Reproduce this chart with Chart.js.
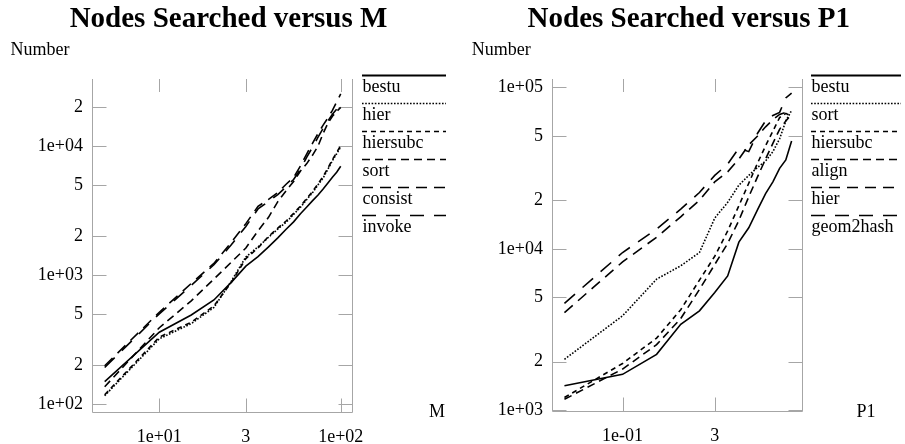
<!DOCTYPE html>
<html><head><meta charset="utf-8">
<script src="https://cdn.jsdelivr.net/npm/chart.js@4.4.1/dist/chart.umd.min.js"></script>
<style>
html,body{margin:0;padding:0;background:#fff;}
#wrap{position:relative;width:905px;height:444px;overflow:hidden;background:#fff;}
canvas{position:absolute;top:0;}
#c1{left:0;} #c2{left:452px;}
</style></head><body>
<div id="wrap"><canvas id="c1" width="452" height="444"></canvas><canvas id="c2" width="453" height="444"></canvas></div>
<script>
// ---------- Left panel: Nodes Searched versus M ----------
const mValues = [5,10,15,20,25,30,35,40,45,50,55,60,65,70,75,80,85,90,95,100];
const mBestu = [149,360,490,640,880,1170,1390,1650,1940,2260,2580,2980,3360,3770,4170,4640,5170,5720,6250,6960];
const mHier = [116,320,420,560,900,1380,1650,1960,2270,2560,2950,3350,3850,4350,5000,5650,6600,7700,8700,9800];
const mHiersubc = [118,330,430,575,880,1340,1620,1990,2310,2620,3000,3420,3920,4450,5100,5800,6750,7850,8900,10100];
const mSort = [136,390,630,930,1260,1620,2200,2800,3700,4500,5300,6400,7300,8500,10000,12500,15000,17000,18500,19900];
const mConsist = [198,514,860,1230,1800,2500,3400,3850,4350,5050,5700,7000,8700,10500,12500,14500,16500,18900,22000,25300];
const mInvoke = [192,500,830,1200,1720,2380,3250,3720,4200,4820,5500,6600,8200,9800,11700,13700,15600,17600,19300,21000];
const mSeriesNames = ['bestu','hier','hiersubc','sort','consist','invoke'];
const mXTicks = [10,30,100];
const mXTickLabels = ['1e+01','3','1e+02'];
const mYTicks = [100,200,500,1000,2000,5000,10000,20000];
const mYTickLabels = ['1e+02','2','5','1e+03','2','5','1e+04','2'];

// ---------- Right panel: Nodes Searched versus P1 ----------
const pValues = [0.05,0.10,0.15,0.20,0.25,0.30,0.35,0.40,0.45,0.50,0.55,0.60,0.65,0.70,0.75];
const pBestu = [1420,1670,2220,3410,4130,5360,6800,11000,13500,17500,22000,26000,31500,35500,46500];
const pSort = [2070,3850,6490,7850,9490,15500,19400,24800,28500,32000,35000,40000,48000,62000,72000];
const pHiersubc = [1200,1950,2800,4200,6400,9000,12900,18500,25500,34000,43500,53600,65000,69000,66000];
const pAlign = [1170,1800,2550,3700,5600,8000,10800,15000,21000,28000,36000,45000,55000,62000,68000];
const pHier = [4030,8300,11800,15800,20000,26000,30000,36000,44000,50000,57000,63000,68000,70000,70000];
const pGeom2hash = [4600,9490,13250,17620,22340,28500,33500,42000,40000,52000,62000,67000,70000,86000,92000];
const pSeriesNames = ['bestu','sort','hiersubc','align','hier','geom2hash'];
const pXTicks = [0.1,0.3];
const pXTickLabels = ['1e-01','3'];
const pYTicks = [1000,2000,5000,10000,20000,50000,100000];
const pYTickLabels = ['1e+03','2','5','1e+04','2','5','1e+05'];

const SERIF = "'Liberation Serif','Times New Roman',Times,serif";
const DASHES = [[], [1.6,1.6], [5,4], [8,5], [11,7], [14,10]];
const GREY = '#a6a6a6';

const framePlugin = {
  id: 'frame',
  beforeDatasetsDraw(chart) {
    const {ctx, chartArea: a, scales: {x, y}} = chart;
    ctx.save();
    ctx.strokeStyle = GREY; ctx.lineWidth = 1; ctx.setLineDash([]);
    const L = Math.round(a.left) + 0.5, R = Math.round(a.right) + 0.5, B = Math.round(a.bottom) + 0.5, T = a.top;
    ctx.beginPath();
    ctx.moveTo(L, T); ctx.lineTo(L, B); ctx.lineTo(R, B); ctx.lineTo(R, T);
    y.ticks.forEach(t => {
      const p = Math.round(y.getPixelForValue(t.value)) + 0.5;
      ctx.moveTo(L, p); ctx.lineTo(L + 14, p);
      ctx.moveTo(R, p); ctx.lineTo(R - 14, p);
    });
    x.ticks.forEach(t => {
      const p = Math.round(x.getPixelForValue(t.value)) + 0.5;
      ctx.moveTo(p, T); ctx.lineTo(p, T + 13);
      ctx.moveTo(p, B); ctx.lineTo(p, B - 14);
    });
    ctx.stroke();
    ctx.restore();
  },
  afterDraw(chart, args, o) {
    const ctx = chart.ctx;
    ctx.save();
    ctx.fillStyle = '#000';
    ctx.textBaseline = 'alphabetic';
    // title
    ctx.font = 'bold 29px ' + SERIF;
    ctx.textAlign = 'center';
    ctx.fillText(o.title, o.titleX, 27);
    // y axis name
    ctx.font = '18px ' + SERIF;
    ctx.textAlign = 'left';
    ctx.fillText('Number', o.numberX, 55);
    // x axis name
    ctx.textAlign = 'center';
    ctx.fillText(o.xName, o.xNameX, 417);
    // legend
    ctx.textAlign = 'left';
    chart.data.datasets.forEach((ds, i) => {
      const ly = 75 + 28 * i + 0.5;
      ctx.strokeStyle = '#000';
      ctx.lineWidth = i === 0 ? 2.2 : 1.6;
      ctx.setLineDash(ds.borderDash || []);
      ctx.beginPath();
      ctx.moveTo(o.legX0, ly); ctx.lineTo(o.legX1, ly);
      ctx.stroke();
      ctx.fillText(ds.label, o.legX0 + 0.5, ly + 16.5);
    });
    ctx.restore();
  }
};

function makeChart(id, c) {
  const datasets = c.series.map((vals, i) => ({
    label: c.names[i],
    data: c.x.map((xv, j) => ({x: xv, y: vals[j]})),
    borderColor: '#000', borderWidth: 1.6, borderDash: DASHES[i],
    pointRadius: 0, tension: 0, fill: false
  }));
  const tickFont = {family: SERIF, size: 18};
  return new Chart(document.getElementById(id), {
    type: 'line',
    data: {datasets},
    options: {
      animation: false, responsive: false, maintainAspectRatio: false,
      layout: {padding: {top: 79, left: 0, right: c.padRight, bottom: 0}},
      scales: {
        x: {
          type: 'logarithmic', min: c.xMin, max: c.xMax,
          afterBuildTicks: s => { s.ticks = c.xTicks.map(v => ({value: v})); },
          afterFit: s => { s.height = c.xAxisH; },
          ticks: {callback: (v, i) => c.xTickLabels[i], font: tickFont, color: '#000', padding: 14, maxRotation: 0, autoSkip: false},
          grid: {display: false, drawTicks: false},
          border: {display: false}
        },
        y: {
          type: 'logarithmic', min: c.yMin, max: c.yMax,
          afterBuildTicks: s => { s.ticks = c.yTicks.map(v => ({value: v})); },
          afterFit: s => { s.width = c.yAxisW; },
          ticks: {callback: (v, i) => c.yTickLabels[i], font: tickFont, color: '#000', padding: 9, autoSkip: false},
          grid: {display: false, drawTicks: false},
          border: {display: false}
        }
      },
      plugins: {
        legend: {display: false}, title: {display: false}, tooltip: {enabled: false},
        frame: c.frame
      }
    },
    plugins: [framePlugin]
  });
}

makeChart('c1', {
  x: mValues, series: [mBestu, mHier, mHiersubc, mSort, mConsist, mInvoke], names: mSeriesNames,
  xMin: 4.256, xMax: 115.4, yMin: 86.7, yMax: 33040,
  xTicks: mXTicks, xTickLabels: mXTickLabels, yTicks: mYTicks, yTickLabels: mYTickLabels,
  padRight: 100, xAxisH: 32, yAxisW: 92,
  frame: {title: 'Nodes Searched versus M', titleX: 228.5, numberX: 10.5, xName: 'M', xNameX: 437, legX0: 362, legX1: 446}
});

makeChart('c2', {
  x: pValues, series: [pBestu, pSort, pHiersubc, pAlign, pHier, pGeom2hash], names: pSeriesNames,
  xMin: 0.0431, xMax: 0.849, yMin: 990, yMax: 112700,
  xTicks: pXTicks, xTickLabels: pXTickLabels, yTicks: pYTicks, yTickLabels: pYTickLabels,
  padRight: 103, xAxisH: 33, yAxisW: 100,
  frame: {title: 'Nodes Searched versus P1', titleX: 236.8, numberX: 19.7, xName: 'P1', xNameX: 414, legX0: 359, legX1: 449}
});
</script>
</body></html>
